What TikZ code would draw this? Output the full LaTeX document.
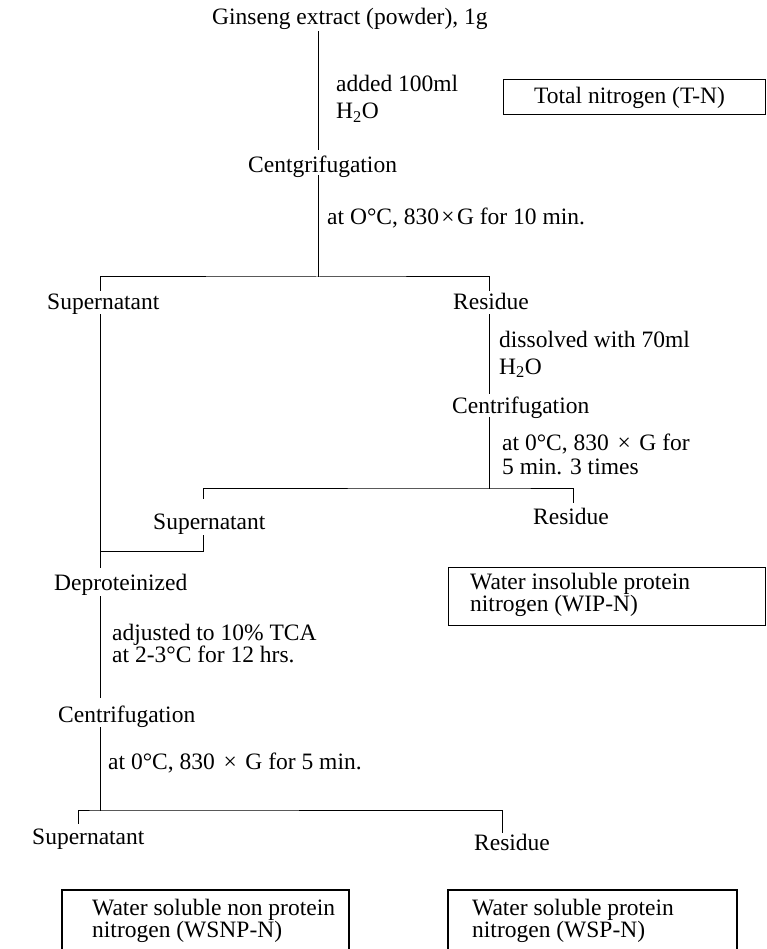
\documentclass[tikz,border=0pt]{standalone}
\usepackage{fontspec}
\setmainfont{Liberation Serif}
\newcommand{\mytimes}[1]{\hspace{#1}×\hspace{#1}}
\begin{document}
\begin{tikzpicture}[x=1pt,y=-1pt,
  lbl/.style={anchor=base west,inner sep=0pt,font=\fontsize{23.5}{27}\selectfont},
  ln/.style={line width=1pt,line cap=rect},
  boxln/.style={line width=1.2pt}]
\useasboundingbox (0,0) rectangle (767,949);
% ---------- texts ----------
\node[lbl] (gin)  at (212,25)  {Ginseng extract (powder), 1g};
\node[lbl] (add1) at (336,92)  {added 100ml};
\node[lbl] (add2) at (336,119) {H\textsubscript{2}O};
\node[lbl] (tnt)  at (534,104) {Total nitrogen (T-N)};
\node[lbl] (cg1)  at (248,173) {Centgrifugation};
\node[lbl] (c1)   at (327,225) {at O°C, 830\mytimes{0.1em}G for 10 min.};
\node[lbl] (sup1) at (47,309)  {Supernatant};
\node[lbl] (res1) at (453,309) {Residue};
\node[lbl] (dis1) at (499,347) {dissolved with 70ml};
\node[lbl] (dis2) at (499,374) {H\textsubscript{2}O};
\node[lbl] (cg2)  at (452,413) {Centrifugation};
\node[lbl] (c2a)  at (502,450) {at 0°C, 830 \mytimes{0.12em} G for};
\node[lbl] (c2b)  at (502,474) {5 min. 3 times};
\node[lbl] (sup2) at (153,529) {Supernatant};
\node[lbl] (res2) at (533,524) {Residue};
\node[lbl] (dep)  at (54,590)  {Deproteinized};
\node[lbl] (wip1) at (470,589) {Water insoluble protein};
\node[lbl] (wip2) at (470,611) {nitrogen (WIP-N)};
\node[lbl] (adj1) at (112,640) {adjusted to 10\% TCA};
\node[lbl] (adj2) at (112,662) {at 2-3°C for 12 hrs.};
\node[lbl] (cg3)  at (58,722)  {Centrifugation};
\node[lbl] (c3)   at (108,769) {at 0°C, 830 \mytimes{0.12em} G for 5 min.};
\node[lbl] (sup3) at (32,844)  {Supernatant};
\node[lbl] (res3) at (474,850) {Residue};
\node[lbl] (ws1)  at (92,915)  {Water soluble non protein};
\node[lbl] (ws2)  at (92,937)  {nitrogen (WSNP-N)};
\node[lbl] (wp1)  at (472,915) {Water soluble protein};
\node[lbl] (wp2)  at (472,937) {nitrogen (WSP-N)};
% ---------- boxes ----------
\node[draw,boxln,anchor=north west,inner sep=0pt,minimum width=262pt,minimum height=35pt] (tnbox) at (503,79) {};
\node[draw,boxln,anchor=north west,inner sep=0pt,minimum width=317pt,minimum height=58pt] (wipbox) at (448,567) {};
\coordinate (wsA) at (62,950);  \coordinate (wsB) at (349,890);
\coordinate (wpA) at (448,950); \coordinate (wpB) at (737,890);
\draw[boxln] (wsA) |- (wsB) -- (wsB |- wsA);
\draw[boxln] (wpA) |- (wpB) -- (wpB |- wpA);
% ---------- junction coordinates ----------
\coordinate (t0) at (318,32);  \coordinate (t1) at (318,150);
\coordinate (t2) at (318,176); \coordinate (s1) at (318,277);
\coordinate (s1L) at (100,290); \coordinate (s1R) at (489,290);
\coordinate (L1) at (100,314); \coordinate (L2) at (100,551);
\coordinate (R1) at (489,314); \coordinate (R2) at (489,393);
\coordinate (R3) at (489,417); \coordinate (s2) at (489,488);
\coordinate (s2L) at (203,498); \coordinate (s2R) at (573,502);
\coordinate (m1) at (203,535);
\coordinate (L3) at (100,567); \coordinate (L4) at (100,596);
\coordinate (L5) at (100,697); \coordinate (L6) at (100,727);
\coordinate (s3) at (100,810);
\coordinate (s3L) at (78,823); \coordinate (s3R) at (502,832);
% ---------- connectors ----------
\draw[ln] (t0) -- (t1);
\draw[ln] (t2) -- (s1);
\draw[ln] (s1L) |- (s1) -| (s1R);
\draw[ln] (L1) -- (L2) -| (m1);
\draw[ln] (R1) -- (R2);
\draw[ln] (R3) -- (s2);
\draw[ln] (s2L) |- (s2) -| (s2R);
\draw[ln] (L2) -- (L3);
\draw[ln] (L4) -- (L5);
\draw[ln] (L6) -- (s3);
\draw[ln] (s3L) |- (s3) -| (s3R);
\end{tikzpicture}
\end{document}
